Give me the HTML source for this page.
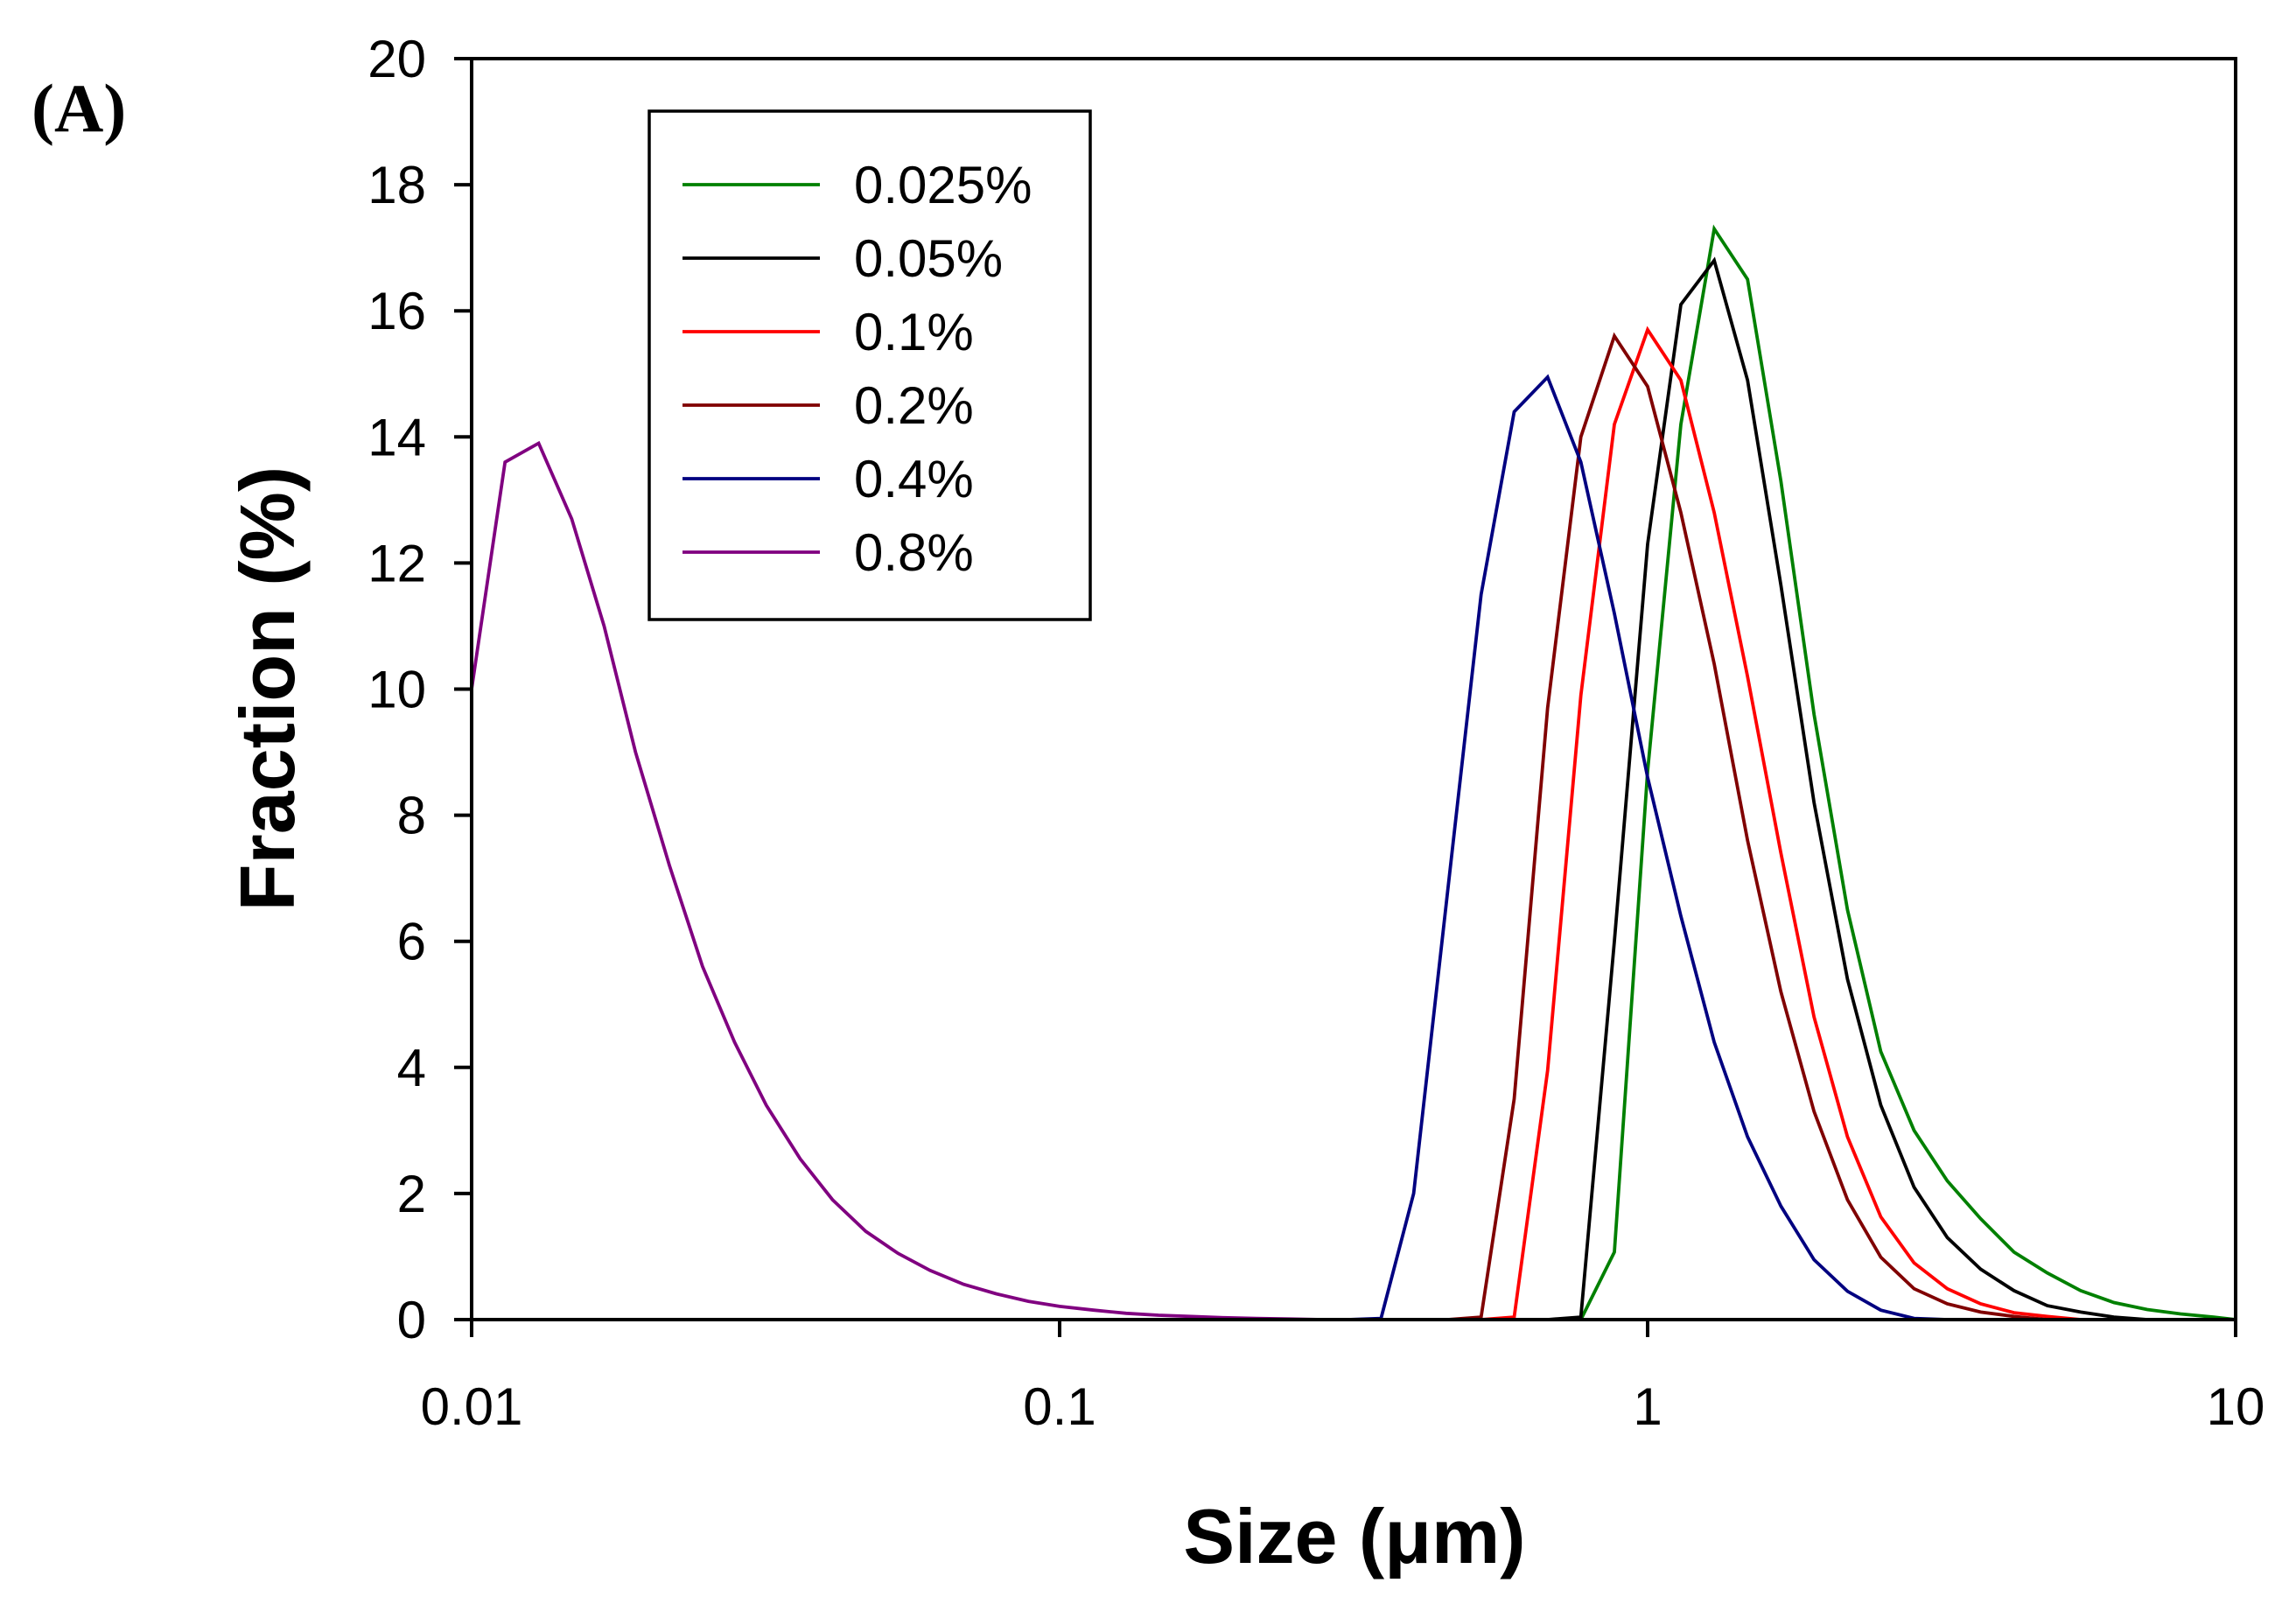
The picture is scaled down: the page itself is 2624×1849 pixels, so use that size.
<!DOCTYPE html>
<html><head><meta charset="utf-8"><style>
html,body{margin:0;padding:0;background:#fff;}
svg{display:block;}
text{font-family:"Liberation Sans",Arial,sans-serif;}
</style></head><body>
<svg id="chart" width="2624" height="1849" viewBox="0 0 2624 1849" xmlns="http://www.w3.org/2000/svg">
<text x="36" y="150" style="font-family:'Liberation Serif',serif;font-weight:bold;font-size:78px;">(A)</text>
<g id="marks"></g>
<g id="axes"></g>
<text transform="translate(336,787) rotate(-90)" text-anchor="middle" style="font-weight:bold;font-size:88px;">Fraction (%)</text>
<text x="1548" y="1786" text-anchor="middle" style="font-weight:bold;font-size:88px;">Size (μm)</text>
<g id="legend"></g>
</svg>
<script>
const seriesNames = ["0.025%","0.05%","0.1%","0.2%","0.4%","0.8%"];
const seriesColors = ["#008000","#000000","#ff0000","#800000","#000080","#800080"];
const gridSizes = [0.309,0.352,0.400,0.457,0.521,0.593,0.676,0.770,0.878,1.000,1.139,1.298,1.479,1.685,1.919,2.187,2.492,2.839,3.234,3.685,4.198,4.783,5.450,6.209,7.074,8.06,9.18];
const green  = [0,0,0,0,0,0,0,0,1.07,8.7,14.2,17.3,16.5,13.3,9.6,6.5,4.25,3.0,2.2,1.6,1.07,0.74,0.46,0.27,0.16,0.09,0.04];
const black  = [0,0,0,0,0,0,0,0.04,6.0,12.3,16.1,16.8,14.9,11.65,8.2,5.4,3.4,2.1,1.3,0.8,0.46,0.22,0.12,0.04,0,0,0];
const red    = [0,0,0,0,0,0.04,3.95,9.9,14.2,15.7,14.9,12.8,10.2,7.4,4.8,2.9,1.63,0.9,0.49,0.25,0.11,0.05,0,0,0,0,0];
const darkred= [0,0,0,0,0.04,3.5,9.7,14.0,15.6,14.8,12.8,10.4,7.6,5.2,3.3,1.9,0.99,0.49,0.25,0.12,0.05,0,0,0,0,0,0];
const blue   = [0,0.02,2.0,6.8,11.5,14.4,14.95,13.6,11.2,8.6,6.4,4.4,2.9,1.8,0.95,0.45,0.15,0.02,0,0,0,0,0,0,0,0,0];
const purpleSizes = [0.01,0.0114,0.0130,0.0148,0.0168,0.0190,0.0217,0.0247,0.0280,0.0317,0.0362,0.0411,0.0468,0.0531,0.0602,0.0687,0.0780,0.0885,0.1000,0.1143,0.1298,0.1473,0.1677,0.1903,0.2160,0.2460,0.28];
const purple = [10,13.6,13.9,12.7,11.0,9.0,7.2,5.6,4.4,3.4,2.55,1.9,1.4,1.05,0.78,0.56,0.41,0.29,0.21,0.15,0.10,0.07,0.05,0.03,0.02,0.01,0];
const yTicks = [0,2,4,6,8,10,12,14,16,18,20];
const xTicks = [0.01,0.1,1,10];
const xTickLabels = ["0.01","0.1","1","10"];

const L=539,R=2555,T=67,B=1508;
const xs = v => L + (Math.log10(v)+2)/3*(R-L);
const ys = v => B - v/20*(B-T);
const NS="http://www.w3.org/2000/svg";
function mk(tag,parent){const e=document.createElementNS(NS,tag);parent.appendChild(e);return e;}
const marks=document.getElementById('marks');
const axes=document.getElementById('axes');
const legend=document.getElementById('legend');

function drawSeries(sizes,vals,color,name){
  const pts=[[xs(0.01),ys(0)]];
  for(let i=0;i<sizes.length;i++){pts.push([xs(sizes[i]),ys(vals[i])]);}
  pts.push([xs(10),ys(0)]);
  const p=mk('polyline',marks);
  
  
  p.setAttribute('points',pts.map(q=>q[0].toFixed(1)+','+q[1].toFixed(1)).join(' '));
  p.setAttribute('fill','none');p.setAttribute('stroke',color);p.setAttribute('stroke-width','3.8');
}
const allVals=[green,black,red,darkred,blue];
for(let s=0;s<5;s++) drawSeries(gridSizes,allVals[s],seriesColors[s],seriesNames[s]);
drawSeries(purpleSizes,purple,seriesColors[5],seriesNames[5]);

const fr=mk('rect',axes);


fr.setAttribute('x',L);fr.setAttribute('y',T);fr.setAttribute('width',R-L);fr.setAttribute('height',B-T);
fr.setAttribute('fill','none');fr.setAttribute('stroke','#000');fr.setAttribute('stroke-width','4');
yTicks.forEach(v=>{
  const t=mk('line',axes);
  
  
  t.setAttribute('x1',L-20);t.setAttribute('x2',L);t.setAttribute('y1',ys(v));t.setAttribute('y2',ys(v));
  t.setAttribute('stroke','#000');t.setAttribute('stroke-width','4');
  const l=mk('text',axes);
  
  
  l.setAttribute('x',L-52);l.setAttribute('y',ys(v)+21);l.setAttribute('text-anchor','end');
  l.setAttribute('font-size','60');l.textContent=v;
});
xTicks.forEach((v,i)=>{
  const t=mk('line',axes);
  
  
  t.setAttribute('x1',xs(v));t.setAttribute('x2',xs(v));t.setAttribute('y1',B);t.setAttribute('y2',B+20);
  t.setAttribute('stroke','#000');t.setAttribute('stroke-width','4');
  const l=mk('text',axes);
  
  
  l.setAttribute('x',xs(v));l.setAttribute('y',1628);l.setAttribute('text-anchor','middle');
  l.setAttribute('font-size','60');l.textContent=xTickLabels[i];
});
const lb=mk('rect',legend);


lb.setAttribute('x',742);lb.setAttribute('y',127);lb.setAttribute('width',504);lb.setAttribute('height',581);
lb.setAttribute('fill','#fff');lb.setAttribute('stroke','#000');lb.setAttribute('stroke-width','3.5');
seriesNames.forEach((n,i)=>{
  const y=211+i*84;
  const g=mk('g',legend);
  
  
  const ln=mk('line',g);
  
  
  ln.setAttribute('x1',780);ln.setAttribute('x2',937);ln.setAttribute('y1',y);ln.setAttribute('y2',y);
  ln.setAttribute('stroke',seriesColors[i]);ln.setAttribute('stroke-width','3.8');
  const tx=mk('text',g);
  
  
  tx.setAttribute('x',976);tx.setAttribute('y',y+21);tx.setAttribute('font-size','60');tx.textContent=n;
});
</script>
</body></html>
